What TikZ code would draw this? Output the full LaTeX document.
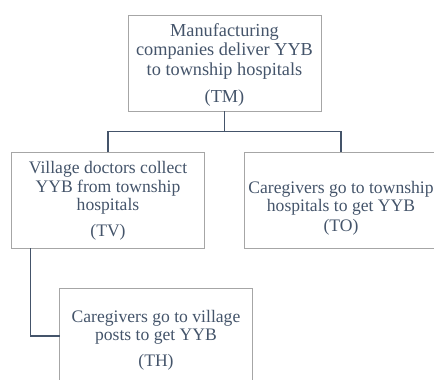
\documentclass[tikz,border=0pt]{standalone}
\usepackage{fontspec}
\setmainfont{Liberation Serif}
\usetikzlibrary{calc}
\definecolor{txt}{HTML}{44546A}
\definecolor{brd}{HTML}{A6A6A6}
\begin{document}
\begin{tikzpicture}[x=1pt,y=-1pt,
  box/.style={draw=brd,line width=0.9pt,minimum width=193pt,minimum height=96pt,inner sep=0pt,outer sep=0pt},
  lbl/.style={text=txt,align=center,inner sep=0pt,anchor=base,font=\fontsize{17.6}{18.5}\selectfont},
  link/.style={draw=txt,line width=1.4pt}]
\useasboundingbox (0,0) rectangle (434,380);
\node[box] (TM) at (224.5,63) {};
\node[box] (TV) at (108,200) {};
\node[box] (TO) at (341,200) {};
\node[box] (TH) at (156,336) {};
\node[lbl,font=\fontsize{18.3}{19.5}\selectfont] (tTM) at (224.5,102.7) {Manufacturing\\companies deliver YYB\\to township hospitals\\[8pt](TM)};
\node[lbl] (tTV) at (108,236.7) {Village doctors collect\\YYB from township\\hospitals\\[7.5pt](TV)};
\node[lbl] (tTO) at (341,231.7) {Caregivers go to township\\hospitals to get YYB\\[1.5pt](TO)};
\node[lbl] (tTH) at (156,366) {Caregivers go to village\\posts to get YYB\\[7pt](TH)};
\coordinate (j) at (224.5,131.5);
\draw[link] (TM.south) -- (j);
\draw[link] (TV.north) |- (j) -| (TO.north);
\draw[link] ($(TV.south west)+(19,0)$) |- (TH.west);
\end{tikzpicture}
\end{document}
